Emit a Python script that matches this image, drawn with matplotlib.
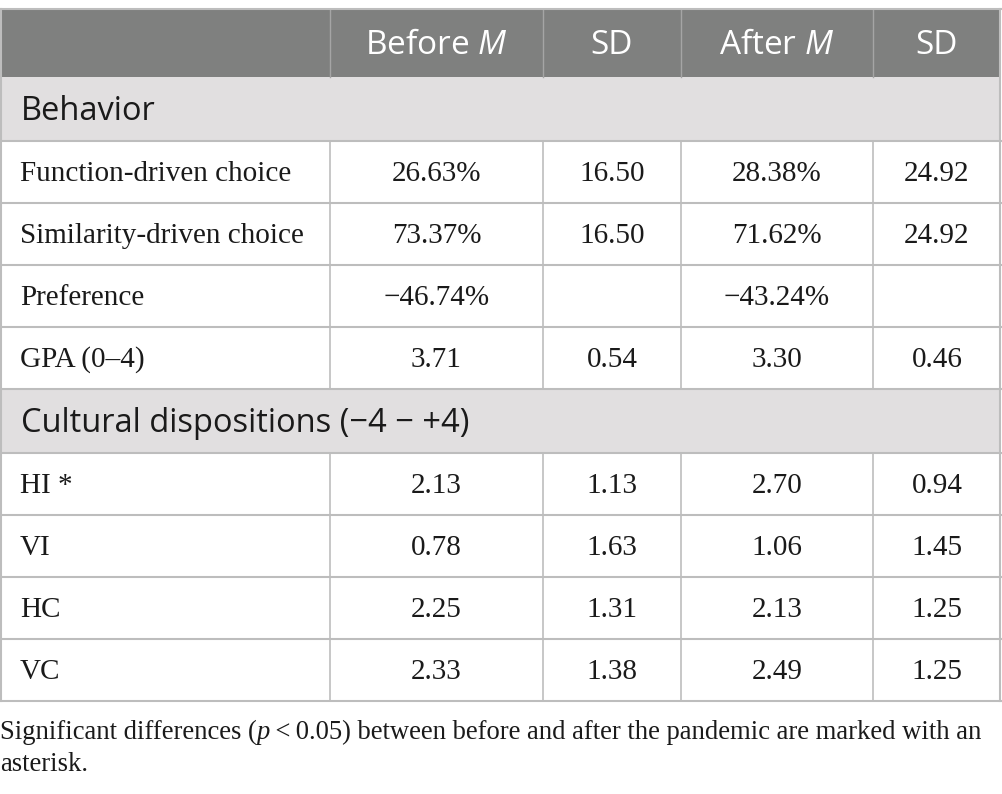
import matplotlib
matplotlib.use("Agg")
import matplotlib.pyplot as plt
from matplotlib.patches import Rectangle

plt.rcParams["mathtext.fontset"] = "custom"
plt.rcParams["mathtext.it"] = "Open Sans:italic"
plt.rcParams["mathtext.rm"] = "Open Sans"

header = ["", "Before M", "SD", "After M", "SD"]
sections = ["Behavior", "Cultural dispositions (\u22124 \u2212 +4)"]
behavior_rows = ["Function-driven choice", "Similarity-driven choice", "Preference", "GPA (0\u20134)"]
behavior_before_m = ["26.63%", "73.37%", "\u221246.74%", "3.71"]
behavior_before_sd = ["16.50", "16.50", "", "0.54"]
behavior_after_m = ["28.38%", "71.62%", "\u221243.24%", "3.30"]
behavior_after_sd = ["24.92", "24.92", "", "0.46"]
cultural_rows = ["HI *", "VI", "HC", "VC"]
cultural_before_m = ["2.13", "0.78", "2.25", "2.33"]
cultural_before_sd = ["1.13", "1.63", "1.31", "1.38"]
cultural_after_m = ["2.70", "1.06", "2.13", "2.49"]
cultural_after_sd = ["0.94", "1.45", "1.25", "1.25"]
footnote_parts = [("Significant differences (", "normal"), ("p", "italic"),
                  ("\u2009<\u20090.05) between before and after the pandemic are marked with an", "normal")]
footnote_line2 = "asterisk."

W, H = 1002, 794
fig = plt.figure(figsize=(W / 100, H / 100), dpi=100)
ax = fig.add_axes([0, 0, 1, 1])
ax.set_xlim(0, W)
ax.set_ylim(H, 0)
ax.axis("off")

col_x = [0, 330, 543, 681, 873, 1001]
header_top, header_bot = 9, 77
row_h = 62
line_c = "#bdbdbd"
head_bg = "#7f807f"
sec_bg = "#e1dfe0"
sans = ["Open Sans", "DejaVu Sans"]
serif = ["Liberation Serif", "DejaVu Serif"]
body_fs = 21
head_fs = 24
sec_fs = 23.5
text_c = "#1a1a1a"

# header
ax.add_patch(Rectangle((0, header_top), W - 1, header_bot - header_top, facecolor=head_bg, edgecolor="none"))
for x in col_x[1:-1]:
    ax.plot([x, x], [header_top, header_bot], color="#a5a5a5", lw=1)
for i, h in enumerate(header):
    if not h:
        continue
    cx = (col_x[i] + col_x[i + 1]) / 2
    if h.endswith(" M"):
        txt = h[:-2] + " $\\mathit{M}$"
    else:
        txt = h
    ax.text(cx, (header_top + header_bot) / 2 + 2, txt, ha="center", va="center",
            color="white", fontsize=head_fs, family=sans)

y = header_bot
blocks = [
    (sections[0], behavior_rows, behavior_before_m, behavior_before_sd, behavior_after_m, behavior_after_sd),
    (sections[1], cultural_rows, cultural_before_m, cultural_before_sd, cultural_after_m, cultural_after_sd),
]
for sec, rows, bm, bs, am, asd in blocks:
    sh = 64
    ax.add_patch(Rectangle((0, y), W - 1, sh, facecolor=sec_bg, edgecolor="none"))
    ax.text(21, y + sh / 2 + 2, sec, ha="left", va="center", fontsize=sec_fs, family=sans, color=text_c)
    ax.plot([0, W - 1], [y + sh, y + sh], color=line_c, lw=1.5)
    y += sh
    for r, label in enumerate(rows):
        cy = y + row_h / 2 + 2
        ax.text(20, cy, label, ha="left", va="center", fontsize=body_fs, family=serif, color=text_c)
        vals = [bm[r], bs[r], am[r], asd[r]]
        for j, v in enumerate(vals):
            cx = (col_x[j + 1] + col_x[j + 2]) / 2
            ax.text(cx, cy, v, ha="center", va="center", fontsize=body_fs, family=serif, color=text_c)
        for x in col_x[1:-1]:
            ax.plot([x, x], [y, y + row_h], color=line_c, lw=1.2)
        ax.plot([0, W - 1], [y + row_h, y + row_h], color=line_c, lw=1.5)
        y += row_h

# outer border
ax.plot([0.8, 0.8], [header_top, y], color=line_c, lw=1.5)
ax.plot([W - 1.5, W - 1.5], [header_top, y], color=line_c, lw=1.5)
ax.plot([0, W - 1], [header_top, header_top], color=line_c, lw=1.5)

foot_fs = 19.2
prev = ax.text(0, 739, footnote_parts[0][0], ha="left", va="baseline", fontsize=foot_fs,
               family=serif, color=text_c)
for txt, style in footnote_parts[1:]:
    prev = ax.annotate(txt, xy=(1, 0), xycoords=prev, ha="left", va="bottom", fontsize=foot_fs,
                       family=serif, style=style, color=text_c)
ax.text(0, 771, footnote_line2, ha="left", va="baseline", fontsize=foot_fs, family=serif, color=text_c)

fig.savefig("out.png", dpi=100)
